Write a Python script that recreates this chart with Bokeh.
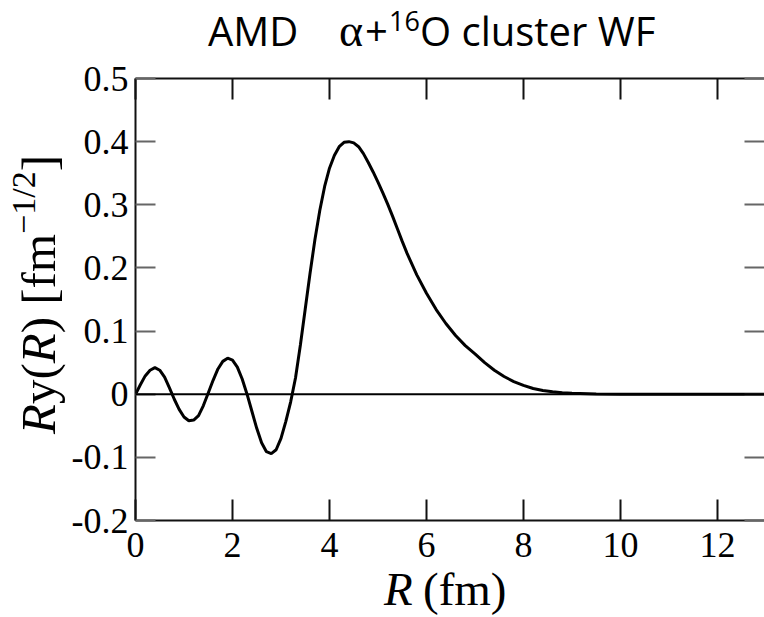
from bokeh.plotting import figure
from bokeh.models import Range1d, LinearAxis, FixedTicker, Span, Div
from bokeh.layouts import column, row
from bokeh.embed import file_html
from bokeh.resources import INLINE

# ---- data ----
r_fm = [0.0, 0.1, 0.2, 0.3, 0.4, 0.5, 0.6, 0.7, 0.8, 0.9,
        1.0, 1.1, 1.2, 1.3, 1.4, 1.5, 1.6, 1.7, 1.8, 1.9,
        2.0, 2.1, 2.2, 2.3, 2.4, 2.5, 2.6, 2.7, 2.8, 2.9,
        3.0, 3.1, 3.2, 3.3, 3.4, 3.5, 3.6, 3.7, 3.8, 3.9,
        4.0, 4.1, 4.2, 4.3, 4.4, 4.5, 4.6, 4.7, 4.8, 4.9,
        5.0, 5.1, 5.2, 5.3, 5.4, 5.5, 5.6, 5.8, 6.0, 6.2,
        6.4, 6.6, 6.8, 7.0, 7.2, 7.4, 7.6, 7.8, 8.0, 8.2,
        8.4, 8.6, 8.8, 9.0, 9.5, 10.0, 11.0, 12.0, 13.0]
ry = [0.000, 0.015, 0.029, 0.038, 0.042, 0.038, 0.027, 0.010, -0.008, -0.024,
      -0.036, -0.042, -0.041, -0.034, -0.018, 0.002, 0.022, 0.040, 0.052, 0.057,
      0.054, 0.043, 0.024, 0.000, -0.027, -0.054, -0.077, -0.091, -0.094, -0.088,
      -0.070, -0.043, -0.012, 0.026, 0.078, 0.135, 0.192, 0.245, 0.291, 0.329,
      0.358, 0.378, 0.392, 0.399, 0.400, 0.398, 0.392, 0.381, 0.367, 0.352,
      0.336, 0.319, 0.301, 0.282, 0.262, 0.242, 0.223, 0.189, 0.160, 0.134,
      0.112, 0.093, 0.077, 0.064, 0.050, 0.038, 0.028, 0.020, 0.014, 0.009,
      0.006, 0.004, 0.0025, 0.0015, 0.0005, 0.0, 0.0, 0.0, 0.0]

x_ticks = [0, 2, 4, 6, 8, 10, 12]
x_tick_labels = ["0", "2", "4", "6", "8", "10", "12"]
y_ticks = [-0.2, -0.1, 0.0, 0.1, 0.2, 0.3, 0.4, 0.5]
y_tick_labels = ["-0.2", "-0.1", "0", "0.1", "0.2", "0.3", "0.4", "0.5"]

title_parts = ["AMD", "\u03b1", "+", "16", "O cluster WF"]
x_label_parts = ["R", "(fm)"]
y_label_parts = ["R", "y(", "R", ") [fm", "\u22121/2", "]"]

# ---- layout constants ----
W, H = 764, 617
TITLE_H = 58
YLAB_W = 66
XLAB_H = 45
FIG_W = W - YLAB_W
FIG_H = H - TITLE_H - XLAB_H
BORDER_L, BORDER_T, BORDER_B = 69, 20, 52
XMIN, XMAX = 0.0, 12.97
YMIN, YMAX = -0.2, 0.5
SERIF = "'Liberation Serif'"
SANS = "'Open Sans'"

p = figure(width=FIG_W, height=FIG_H, output_backend="svg", toolbar_location=None,
           x_range=Range1d(XMIN, XMAX), y_range=Range1d(YMIN, YMAX),
           x_axis_location=None, y_axis_location=None,
           min_border_left=BORDER_L, min_border_right=0,
           min_border_top=BORDER_T, min_border_bottom=BORDER_B)
p.outline_line_color = None
p.background_fill_color = "white"
p.border_fill_color = "white"
for g in p.grid:
    g.visible = False

def style_axis(ax, ticks, labels, tick_color, tick_len, show_labels, line=True):
    ax.ticker = FixedTicker(ticks=ticks)
    ax.major_label_overrides = {t: (l if show_labels else "") for t, l in zip(ticks, labels)}
    ax.major_tick_in = tick_len
    ax.major_tick_out = 0
    ax.minor_tick_line_color = None
    ax.major_tick_line_color = tick_color
    ax.major_tick_line_width = 2
    ax.axis_line_color = "#111111" if line else None
    ax.axis_line_width = 2
    ax.major_label_text_font = "Liberation Serif"
    ax.major_label_text_font_size = "36px" if show_labels else "0px"
    ax.major_label_text_color = "black"
    ax.axis_label = None

bottom = LinearAxis()
style_axis(bottom, x_ticks, x_tick_labels, "#111111", 21, True)
bottom.major_label_standoff = 12
top = LinearAxis()
style_axis(top, x_ticks, x_tick_labels, "#111111", 21, False)
top.major_label_standoff = 0
left = LinearAxis()
style_axis(left, y_ticks, y_tick_labels, "#666666", 20, True)
left.major_label_standoff = 7
right = LinearAxis()
style_axis(right, y_ticks, y_tick_labels, "#666666", 20, False, line=False)
right.major_label_standoff = 0

p.add_layout(bottom, "below")
p.add_layout(top, "above")
p.add_layout(left, "left")
p.add_layout(right, "right")

p.add_layout(Span(location=0, dimension="width", line_color="black", line_width=2))
p.line(r_fm, ry, line_color="black", line_width=3)

# ---- texts with mixed styles (title, axis titles) as real SVG text ----
t = title_parts
title_svg = (
    f'<svg width="{W}" height="{TITLE_H}" xmlns="http://www.w3.org/2000/svg" style="display:block">'
    f'<text y="46" style="font-family:{SANS}; font-size:40px; fill:black">'
    f'<tspan x="208">{t[0]}</tspan>'
    f'<tspan x="339" style="font-family:{SERIF}; font-size:46px">{t[1]}</tspan>'
    f'<tspan x="365">{t[2]}</tspan>'
    f'<tspan x="389" y="31" style="font-size:27px">{t[3]}</tspan>'
    f'<tspan x="420" y="46">{t[4]}</tspan>'
    f'</text></svg>'
)
title_div = Div(text=title_svg, width=W, height=TITLE_H, margin=0)

yl = y_label_parts
ylab_svg = (
    f'<svg width="{YLAB_W}" height="{FIG_H}" xmlns="http://www.w3.org/2000/svg" style="display:block">'
    f'<text transform="translate(55,{434 - TITLE_H}) rotate(-90)" '
    f'style="font-family:{SERIF}; font-size:49px; fill:black">'
    f'<tspan style="font-style:italic">{yl[0]}</tspan>'
    f'<tspan>{yl[1]}</tspan>'
    f'<tspan style="font-style:italic">{yl[2]}</tspan>'
    f'<tspan>{yl[3]}</tspan>'
    f'<tspan dy="-20" style="font-size:34px">{yl[4]}</tspan>'
    f'<tspan dy="20">{yl[5]}</tspan>'
    f'</text></svg>'
)
ylab_div = Div(text=ylab_svg, width=YLAB_W, height=FIG_H, margin=0)

xl = x_label_parts
xlab_svg = (
    f'<svg width="{W}" height="{XLAB_H}" xmlns="http://www.w3.org/2000/svg" '
    f'style="display:block; overflow:visible">'
    f'<text y="33" style="font-family:{SERIF}; font-size:47px; fill:black">'
    f'<tspan x="384" style="font-style:italic">{xl[0]}</tspan>'
    f'<tspan x="423">{xl[1]}</tspan>'
    f'</text></svg>'
)
xlab_div = Div(text=xlab_svg, width=W, height=XLAB_H, margin=0,
               styles={"overflow": "visible"})

layout = column(title_div, row(ylab_div, p, spacing=0), xlab_div, spacing=0)

open("out.html", "w").write(file_html(layout, INLINE))
